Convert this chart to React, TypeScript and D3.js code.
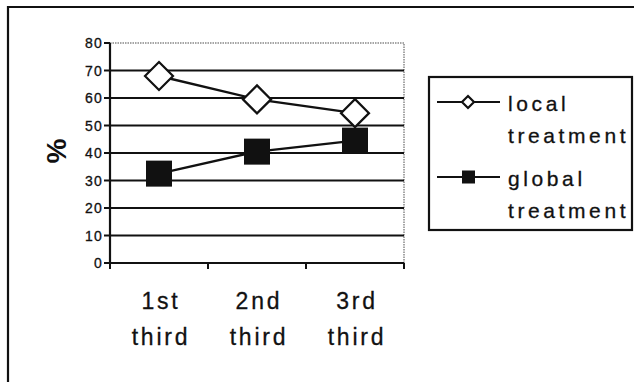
import React from "react";
import * as d3 from "d3";

// Share of patients per third of the treatment period
const categoryLines: string[][] = [
  ["1st", "third"],
  ["2nd", "third"],
  ["3rd", "third"],
];
const localValues: number[] = [68, 59.5, 54.5];
const globalValues: number[] = [32.5, 40.5, 44.5];
const yTicks: number[] = [0, 10, 20, 30, 40, 50, 60, 70, 80];
const seriesNames: string[][] = [
  ["local", "treatment"],
  ["global", "treatment"],
];

const W = 634;
const H = 382;
const FONT = "'Liberation Sans', Arial, sans-serif";
const INK = "#111";

export default function App() {
  const plot = { left: 110, right: 404, top: 43, bottom: 263 };
  const x = d3
    .scaleBand<number>()
    .domain(d3.range(categoryLines.length))
    .range([plot.left, plot.right]);
  const y = d3.scaleLinear().domain([0, 80]).range([plot.bottom, plot.top]);
  const cx = (i: number) => (x(i) as number) + x.bandwidth() / 2;

  const line = d3
    .line<number>()
    .x((_, i) => cx(i))
    .y((d) => y(d));

  const diamond = (px: number, py: number, r: number) =>
    `M${px},${py - r}L${px + r},${py}L${px},${py + r}L${px - r},${py}Z`;

  const bandEdges = [plot.left, ...d3.range(categoryLines.length).map((i) => (x(i) as number) + x.bandwidth())];

  const legend = { x: 429, y: 77, w: 203, h: 153 };
  const legendRowY = [102, 177];

  return (
    <svg
      width={W}
      height={H}
      style={{ position: "absolute", left: 0, top: 0, background: "#fff" }}
      fontFamily={FONT}
    >
      {/* outer chart frame */}
      <path d={`M8,${H + 5}V7H${W + 5}`} fill="none" stroke={INK} strokeWidth={2.2} />

      {/* plot area top and right border */}
      <path
        d={`M${plot.left},${plot.top}H${plot.right}V${plot.bottom}`}
        fill="none"
        stroke="#888"
        strokeWidth={1.5}
        strokeDasharray="1.5 1"
      />

      {/* gridlines */}
      {yTicks
        .filter((t) => t > 0 && t < 80)
        .map((t) => (
          <line key={t} x1={plot.left} x2={plot.right} y1={y(t)} y2={y(t)} stroke={INK} strokeWidth={2.2} />
        ))}

      {/* axes */}
      <line x1={plot.left} x2={plot.left} y1={plot.top} y2={plot.bottom} stroke={INK} strokeWidth={2.2} />
      <line x1={plot.left} x2={plot.right} y1={plot.bottom} y2={plot.bottom} stroke={INK} strokeWidth={2.2} />

      {/* y ticks and labels */}
      {yTicks.map((t) => (
        <g key={t}>
          <line x1={plot.left - 6} x2={plot.left} y1={y(t)} y2={y(t)} stroke={INK} strokeWidth={2} />
          <text
            x={plot.left - 7}
            y={y(t)}
            dy="0.36em"
            textAnchor="end"
            fontSize={14}
            letterSpacing={1.2}
            fill={INK}
            stroke={INK}
            strokeWidth={0.3}
          >
            {t}
          </text>
        </g>
      ))}

      {/* x ticks */}
      {bandEdges.map((bx, i) => (
        <line key={i} x1={bx} x2={bx} y1={plot.bottom} y2={plot.bottom + 6} stroke={INK} strokeWidth={2} />
      ))}

      {/* category labels */}
      {categoryLines.map((lines, i) =>
        lines.map((s, j) => (
          <text
            key={`${i}-${j}`}
            x={cx(i) + 2}
            y={309 + j * 36}
            textAnchor="middle"
            fontSize={23}
            letterSpacing={2.8}
            fill={INK}
            stroke={INK}
            strokeWidth={0.3}
          >
            {s}
          </text>
        ))
      )}

      {/* y axis title */}
      <text
        transform="translate(56,151) rotate(-90)"
        textAnchor="middle"
        dy="0.35em"
        fontSize={28}
        fontWeight="bold"
        fill={INK}
      >
        %
      </text>

      {/* series lines */}
      <path d={line(localValues) ?? ""} fill="none" stroke={INK} strokeWidth={2.4} />
      <path d={line(globalValues) ?? ""} fill="none" stroke={INK} strokeWidth={2.4} />

      {/* markers */}
      {localValues.map((v, i) => (
        <path key={`l${i}`} d={diamond(cx(i), y(v), 14)} fill="#fff" stroke={INK} strokeWidth={2.2} />
      ))}
      {globalValues.map((v, i) => (
        <rect key={`g${i}`} x={cx(i) - 13} y={y(v) - 13} width={26} height={26} fill={INK} />
      ))}

      {/* legend */}
      <rect x={legend.x} y={legend.y} width={legend.w} height={legend.h} fill="#fff" stroke={INK} strokeWidth={2.2} />
      <line x1={437} x2={500} y1={legendRowY[0]} y2={legendRowY[0]} stroke={INK} strokeWidth={2.2} />
      <path d={diamond(468, legendRowY[0], 6)} fill="#fff" stroke={INK} strokeWidth={2.2} />
      <line x1={437} x2={500} y1={legendRowY[1]} y2={legendRowY[1]} stroke={INK} strokeWidth={2.2} />
      <rect x={462} y={legendRowY[1] - 6.5} width={13} height={13} fill={INK} />
      {seriesNames.map((lines, i) =>
        lines.map((s, j) => (
          <text
            key={`${i}-${j}`}
            x={508}
            y={legendRowY[i] + 9 + j * 31.5}
            fontSize={21}
            letterSpacing={3.6}
            fill={INK}
            stroke={INK}
            strokeWidth={0.3}
          >
            {s}
          </text>
        ))
      )}
    </svg>
  );
}
